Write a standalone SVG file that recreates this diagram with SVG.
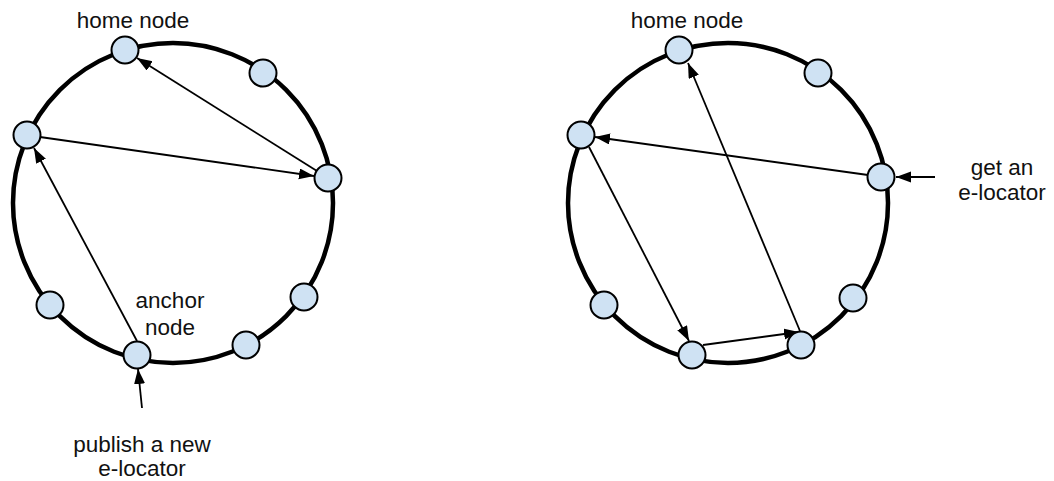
<svg xmlns="http://www.w3.org/2000/svg" width="1054" height="481" viewBox="0 0 1054 481">
  <style>
    .ring { fill: none; stroke: #000; stroke-width: 4.5; }
    .node { fill: #cfe2f3; stroke: #000; stroke-width: 2; }
    .edge { fill: none; stroke: #000; stroke-width: 1.8; marker-end: url(#arrow); }
    .lbl { font-family: "Liberation Sans", Arial, sans-serif; font-size: 22.5px; fill: #111; text-anchor: middle; }
  </style>
  <defs>
    <marker id="arrow" markerUnits="userSpaceOnUse" markerWidth="16" markerHeight="12" refX="15" refY="5.5" orient="auto">
      <path d="M0,0 L15,5.5 L0,11 Z" fill="#000"/>
    </marker>
  </defs>
  <rect width="1054" height="481" fill="#fff"/>

  <!-- rings -->
  <circle class="ring" cx="173" cy="203" r="160"/>
  <circle class="ring" cx="728" cy="203" r="160"/>

  <!-- connectors -->
  <g id="connectors">
    <!-- left: publish -->
    <line class="edge" x1="142" y1="408" x2="138" y2="369"/>
    <line class="edge" x1="137" y1="341" x2="34" y2="148"/>
    <line class="edge" x1="40" y1="137" x2="314" y2="176"/>
    <line class="edge" x1="317" y1="171" x2="137" y2="58"/>
    <!-- right: lookup -->
    <line class="edge" x1="935" y1="177" x2="896" y2="177"/>
    <line class="edge" x1="868" y1="175" x2="595" y2="137"/>
    <line class="edge" x1="589" y1="147" x2="689" y2="341"/>
    <line class="edge" x1="703" y1="345" x2="799" y2="332"/>
    <line class="edge" x1="800" y1="331" x2="688" y2="63"/>
  </g>

  <!-- left ring nodes -->
  <g id="l-home"><circle class="node" cx="125" cy="50" r="13.5"/></g>
  <g id="l-n2"><circle class="node" cx="263" cy="73" r="13.5"/></g>
  <g id="l-n3"><circle class="node" cx="328" cy="178" r="13.5"/></g>
  <g id="l-n4"><circle class="node" cx="304" cy="297" r="13.5"/></g>
  <g id="l-n5"><circle class="node" cx="246" cy="345" r="13.5"/></g>
  <g id="l-anchor"><circle class="node" cx="137" cy="355" r="13.5"/></g>
  <g id="l-n7"><circle class="node" cx="50" cy="305" r="13.5"/></g>
  <g id="l-n8"><circle class="node" cx="27" cy="135" r="13.5"/></g>

  <!-- right ring nodes -->
  <g id="r-home"><circle class="node" cx="679" cy="50" r="13.5"/></g>
  <g id="r-n2"><circle class="node" cx="818" cy="73" r="13.5"/></g>
  <g id="r-n3"><circle class="node" cx="881" cy="177" r="13.5"/></g>
  <g id="r-n4"><circle class="node" cx="853" cy="298" r="13.5"/></g>
  <g id="r-n5"><circle class="node" cx="801" cy="345" r="13.5"/></g>
  <g id="r-n6"><circle class="node" cx="692" cy="355" r="13.5"/></g>
  <g id="r-n7"><circle class="node" cx="604" cy="305" r="13.5"/></g>
  <g id="r-n8"><circle class="node" cx="581" cy="135" r="13.5"/></g>

  <!-- labels -->
  <text class="lbl" x="133" y="28">home node</text>
  <text class="lbl" x="170" y="308">anchor</text>
  <text class="lbl" x="170" y="335">node</text>
  <text class="lbl" x="142" y="452">publish a new</text>
  <text class="lbl" x="142" y="476">e-locator</text>
  <text class="lbl" x="687" y="28">home node</text>
  <text class="lbl" x="1002" y="175">get an</text>
  <text class="lbl" x="1002" y="200">e-locator</text>
</svg>
